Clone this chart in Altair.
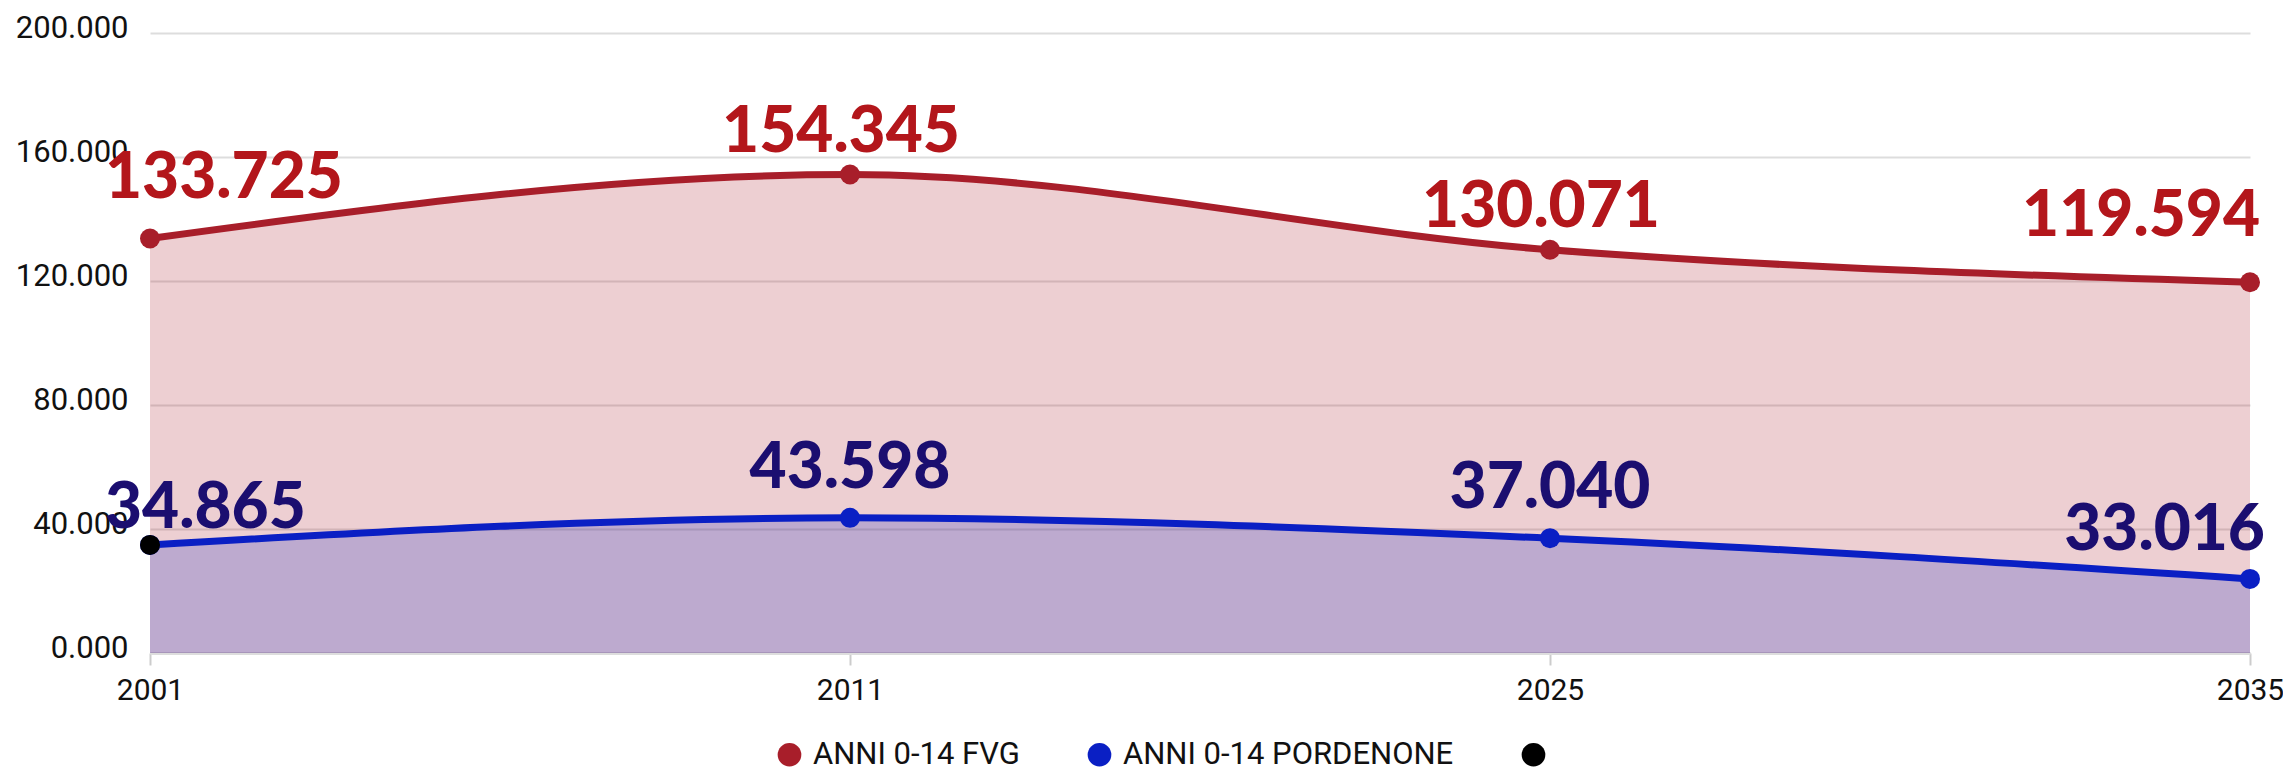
import altair as alt
import pandas as pd

years = ["2001", "2011", "2025", "2035"]
fvg_values = [133725, 154345, 130071, 119594]
pn_values = [34865, 43598, 37040, 23900]
fvg_labels = ["133.725", "154.345", "130.071", "119.594"]
pn_labels = ["34.865", "43.598", "37.040", "33.016"]
extra_years = ["2001"]
extra_values = [34865]
series_names = ["ANNI 0-14 FVG", "ANNI 0-14 PORDENONE", " "]
series_colors = ["#A81E2A", "#0A1FC4", "#000000"]
label_colors = ["#B3161B", "#1B0E70"]
y_ticks = [0, 40000, 80000, 120000, 160000, 200000]

rows = []
for name, vals, labs in [(series_names[0], fvg_values, fvg_labels),
                         (series_names[1], pn_values, pn_labels)]:
    for i, (yr, v, lab) in enumerate(zip(years, vals, labs)):
        pos = "left" if i == 0 else ("right" if i == len(years) - 1 else "center")
        rows.append({"series": name, "year": yr, "value": v, "label": lab, "pos": pos})
for yr, v in zip(extra_years, extra_values):
    rows.append({"series": series_names[2], "year": yr, "value": v, "label": "", "pos": "none"})
df = pd.DataFrame(rows)

x = alt.X("year:O", sort=years, title=None,
          scale=alt.Scale(type="point", padding=0),
          axis=alt.Axis(labelAngle=0, labelFont="Roboto", labelFontSize=30, labelColor="#111111",
                        labelPadding=10, tickSize=12, tickColor="#CCCCCC", tickWidth=2,
                        domainColor="#DDDDDD", domainWidth=3, grid=False))
y = alt.Y("value:Q", title=None, stack=None,
          scale=alt.Scale(domain=[0, 200000], nice=False),
          axis=alt.Axis(values=y_ticks, labelExpr="format(datum.value/1000, '.3f')",
                        labelFont="Roboto", labelFontSize=31, labelColor="#111111",
                        labelPadding=22, ticks=False, domain=False,
                        labelBaseline="alphabetic", labelOffset=4,
                        gridColor="#DDDDDD", gridWidth=2))
color = alt.Color("series:N", scale=alt.Scale(domain=series_names, range=series_colors),
                  legend=alt.Legend(orient="none", legendX=624, legendY=706,
                                    direction="horizontal", title=None,
                                    symbolType="circle", symbolSize=560,
                                    symbolOpacity=1, symbolStrokeWidth=0,
                                    labelFont="Roboto", labelFontSize=31, labelLimit=1000,
                                    labelColor="#111111", columnPadding=64,
                                    labelOffset=8, padding=0))

base = alt.Chart(df)
main = base.transform_filter(alt.datum.series != " ")

area = main.mark_area(interpolate="monotone", fillOpacity=0.21).encode(x=x, y=y, color=color)
line = main.mark_line(interpolate="monotone", strokeWidth=7).encode(x=x, y=y, color=color)
points = base.mark_circle(size=400, opacity=1).encode(x=x, y=y, color=color)


def labels(series_idx, pos, align, dx, dy):
    return main.transform_filter(
        (alt.datum.pos == pos) & (alt.datum.series == series_names[series_idx])
    ).mark_text(
        font="Lato", fontWeight=900, fontSize=64, align=align, baseline="alphabetic",
        dx=dx, dy=dy, color=label_colors[series_idx]).encode(x=x, y=y, text="label:N")


chart = alt.layer(
    area, line, points,
    labels(0, "left", "left", -45, -40),
    labels(0, "center", "center", -9, -23),
    labels(0, "right", "right", 10, -46),
    labels(1, "left", "left", -45, -17),
    labels(1, "center", "center", 0, -30),
    labels(1, "right", "right", 15, -29),
).properties(
    width=2100, height=620,
    autosize=alt.AutoSizeParams(type="none"),
    padding={"left": 142, "top": 25, "right": 33, "bottom": 118},
).configure_view(stroke=None)

chart.save("out.html", embed_options={"renderer": "svg", "actions": False})
